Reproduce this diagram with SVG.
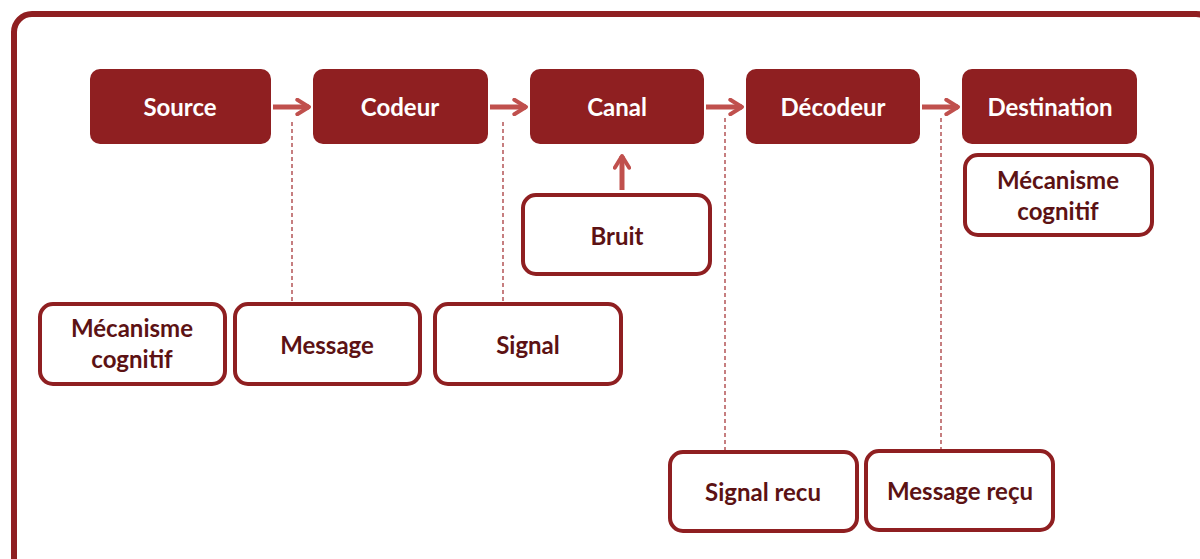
<svg xmlns="http://www.w3.org/2000/svg" width="1200" height="559" viewBox="0 0 1200 559">
<defs>
<style>
.fill{fill:#8f1f21}
.ol{fill:#fff;stroke:#8f1f21;stroke-width:4}
.tw{font-family:Lato,"Open Sans",sans-serif;font-weight:bold;font-size:24px;fill:#fff;text-anchor:middle}
.td{font-family:Lato,"Open Sans",sans-serif;font-weight:bold;font-size:24px;fill:#5c1214;text-anchor:middle}
.arr{stroke:#c0504d;stroke-width:5;fill:none}
.dash{stroke:#a83a3c;stroke-width:1.3;stroke-dasharray:4,3;fill:none}
</style>
<marker id="ah" viewBox="0 0 10 10" refX="8" refY="5" markerWidth="3.6" markerHeight="3.6" orient="auto" markerUnits="strokeWidth">
<path d="M1.5,1 L8,5 L1.5,9" fill="none" stroke="#c0504d" stroke-width="2.2" stroke-linecap="round" stroke-linejoin="round"/>
</marker>
</defs>
<rect width="1200" height="559" fill="#fff"/>
<rect x="14" y="14" width="1200" height="570" rx="18" fill="none" stroke="#8f1f21" stroke-width="6"/>
<g id="connectors">
<line class="arr" x1="273" y1="107" x2="309" y2="107" marker-end="url(#ah)"/>
<line class="arr" x1="490" y1="107" x2="526" y2="107" marker-end="url(#ah)"/>
<line class="arr" x1="706" y1="107" x2="742" y2="107" marker-end="url(#ah)"/>
<line class="arr" x1="922" y1="107" x2="958" y2="107" marker-end="url(#ah)"/>
<line class="arr" x1="622" y1="190" x2="622" y2="156" marker-end="url(#ah)"/>
<line class="dash" x1="292" y1="122" x2="292" y2="302"/>
<line class="dash" x1="503" y1="122" x2="503" y2="302"/>
<line class="dash" x1="725" y1="118" x2="725" y2="450"/>
<line class="dash" x1="941" y1="118" x2="941" y2="449"/>
</g>
<g id="source"><rect class="fill" x="90" y="69" width="181" height="75" rx="10"/><text class="tw" x="180" y="116">Source</text></g>
<g id="codeur"><rect class="fill" x="313" y="69" width="175" height="75" rx="10"/><text class="tw" x="400" y="116">Codeur</text></g>
<g id="canal"><rect class="fill" x="530" y="69" width="174" height="75" rx="10"/><text class="tw" x="617" y="116">Canal</text></g>
<g id="decodeur"><rect class="fill" x="746" y="69" width="174" height="75" rx="10"/><text class="tw" x="833" y="116">Décodeur</text></g>
<g id="destination"><rect class="fill" x="962" y="69" width="175" height="75" rx="10"/><text class="tw" x="1050" y="116">Destination</text></g>
<g id="bruit"><rect class="ol" x="523" y="195" width="187" height="79" rx="13"/><text class="td" x="617" y="245">Bruit</text></g>
<g id="mecanisme-dest"><rect class="ol" x="965" y="155" width="187" height="80" rx="13"/><text class="td" x="1058" y="189">Mécanisme</text><text class="td" x="1058" y="220">cognitif</text></g>
<g id="mecanisme-source"><rect class="ol" x="40" y="304" width="185" height="80" rx="13"/><text class="td" x="132" y="337">Mécanisme</text><text class="td" x="132" y="368">cognitif</text></g>
<g id="message"><rect class="ol" x="235" y="304" width="185" height="80" rx="13"/><text class="td" x="327" y="354">Message</text></g>
<g id="signal"><rect class="ol" x="435" y="304" width="186" height="80" rx="13"/><text class="td" x="528" y="354">Signal</text></g>
<g id="signal-recu"><rect class="ol" x="670" y="452" width="187" height="79" rx="13"/><text class="td" x="763" y="501">Signal recu</text></g>
<g id="message-recu"><rect class="ol" x="866" y="451" width="187" height="79" rx="13"/><text class="td" x="960" y="500">Message reçu</text></g>
</svg>
